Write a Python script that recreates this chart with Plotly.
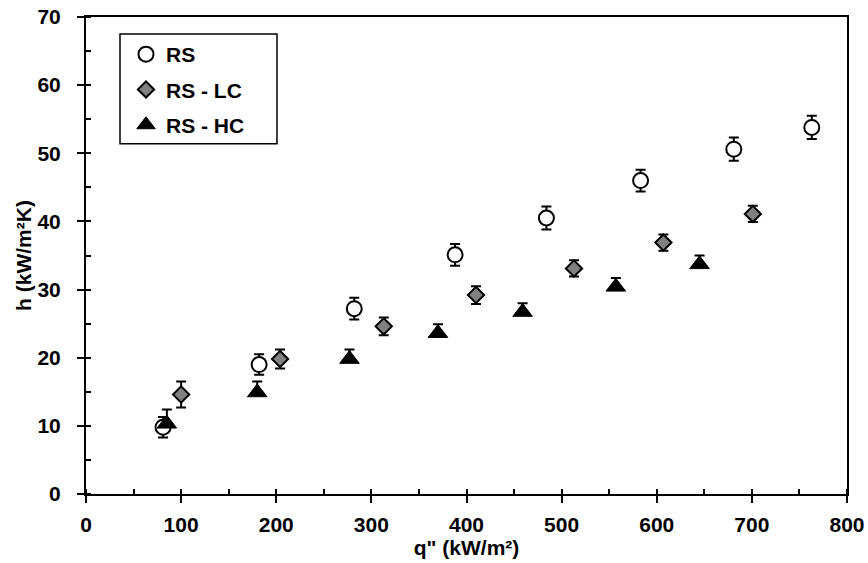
import plotly.graph_objects as go

# Data
rs_q = [81, 182, 282, 388, 484, 583, 681, 763]
rs_h = [9.8, 19.0, 27.2, 35.1, 40.5, 46.0, 50.6, 53.8]
rs_err = [1.5, 1.5, 1.6, 1.6, 1.7, 1.6, 1.7, 1.7]

lc_q = [100, 204, 313, 410, 513, 607, 701]
lc_h = [14.6, 19.8, 24.6, 29.2, 33.1, 36.9, 41.1]
lc_err = [1.9, 1.4, 1.3, 1.3, 1.2, 1.2, 1.2]

hc_q = [85, 180, 277, 370, 459, 557, 645]
hc_h = [10.3, 14.9, 19.8, 23.6, 26.7, 30.4, 33.7]
hc_err_plus = [2.1, 1.6, 1.4, 1.3, 1.3, 1.3, 1.3]
hc_err_minus = [0.3, 0.3, 0.3, 0.3, 0.3, 0.3, 0.3]  # lower bars hidden behind the triangles

FONT = "Liberation Sans, Arial, sans-serif"

def err(v, vminus=None):
    d = dict(type="data", array=v, visible=True, color="black", thickness=2, width=5)
    if vminus is not None:
        d.update(symmetric=False, arrayminus=vminus)
    return d

fig = go.Figure()
fig.add_trace(go.Scatter(x=rs_q, y=rs_h, mode="markers", name="RS", legendgroup="a",
                         error_y=err(rs_err),
                         marker=dict(symbol="circle", size=15, color="white",
                                     line=dict(color="black", width=2))))
fig.add_trace(go.Scatter(x=lc_q, y=lc_h, mode="markers", name="RS - LC", legendgroup="b",
                         error_y=err(lc_err),
                         marker=dict(symbol="diamond", size=12.5, color="#808080",
                                     line=dict(color="black", width=2))))
fig.add_trace(go.Scatter(x=hc_q, y=hc_h, mode="markers", name="RS - HC", legendgroup="c",
                         error_y=err(hc_err_plus, hc_err_minus),
                         marker=dict(symbol="triangle-up", size=17, color="black",
                                     line=dict(color="black", width=1))))

tickfont = dict(family=FONT, size=21, color="black", weight="bold")
titlefont = dict(family=FONT, size=21, color="black", weight="bold")

PL, PR, PT, PB = 86, 847, 17, 494.5
W, H = 868, 563

def px_x(p):
    return (p - PL) / (PR - PL)

def px_y(p):
    return 1 - (p - PT) / (PB - PT)

fig.update_layout(
    width=W, height=H,
    margin=dict(l=PL, r=W - PR, t=PT, b=H - PB),
    paper_bgcolor="white", plot_bgcolor="white",
    showlegend=True,
    legend=dict(x=px_x(126), y=px_y(34), xanchor="left", yanchor="top",
                bgcolor="rgba(0,0,0,0)", borderwidth=0,
                font=dict(family=FONT, size=21, color="black", weight="bold"),
                tracegroupgap=5, traceorder="grouped"),
    shapes=[dict(type="rect", xref="paper", yref="paper",
                 x0=px_x(120), x1=px_x(277), y0=px_y(144), y1=px_y(34),
                 line=dict(color="black", width=1.5), fillcolor="white", layer="below")],
    xaxis=dict(range=[0, 800], dtick=100, tick0=0, showgrid=False, zeroline=False,
               showline=True, linecolor="black", linewidth=2, mirror=True,
               ticks="outside", ticklen=7, tickwidth=2, tickcolor="black",
               minor=dict(dtick=50, ticks="inside", ticklen=5, tickwidth=2, tickcolor="black"),
               tickfont=tickfont, ticklabelstandoff=4, automargin=False,
               title=dict(text="q\" (kW/m²)", font=titlefont, standoff=2)),
    yaxis=dict(range=[0, 70], dtick=10, tick0=0, showgrid=False, zeroline=False,
               showline=True, linecolor="black", linewidth=2, mirror=True,
               ticks="outside", ticklen=7, tickwidth=2, tickcolor="black",
               minor=dict(dtick=5, ticks="inside", ticklen=5, tickwidth=2, tickcolor="black"),
               tickfont=tickfont, ticklabelstandoff=12, automargin=False,
               title=dict(text="h (kW/m²K)", font=titlefont, standoff=0)),
    xaxis2=dict(range=[0, 800], dtick=100, tick0=0, overlaying="x", anchor="y",
                showgrid=False, zeroline=False, showline=False, showticklabels=False,
                ticks="inside", ticklen=7, tickwidth=2, tickcolor="black"),
    yaxis2=dict(range=[0, 70], dtick=10, tick0=0, overlaying="y", anchor="x", side="left",
                showgrid=False, zeroline=False, showline=False, showticklabels=False,
                ticks="inside", ticklen=7, tickwidth=2, tickcolor="black"),
)

fig.write_html("out.html")
